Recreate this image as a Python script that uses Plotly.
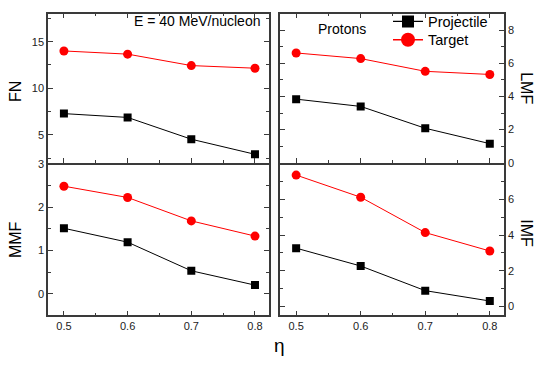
import plotly.graph_objects as go

eta = [0.5, 0.6, 0.7, 0.8]

fn_projectile = [7.27, 6.86, 4.52, 2.9]
fn_target = [14.0, 13.66, 12.43, 12.15]

lmf_projectile = [3.84, 3.40, 2.08, 1.15]
lmf_target = [6.63, 6.29, 5.52, 5.33]

mmf_projectile = [1.51, 1.19, 0.53, 0.20]
mmf_target = [2.48, 2.22, 1.68, 1.33]

imf_projectile = [3.27, 2.27, 0.89, 0.31]
imf_target = [7.36, 6.12, 4.14, 3.11]

series_names = ["Projectile", "Target"]

W, H = 537, 365
FONT = "Liberation Sans, Arial, sans-serif"
AX = "#3a3a3a"

def px_x(p):
    return p / W

def px_y(p):
    return 1 - p / H

fig = go.Figure()

panels = [
    ("x", "y", fn_projectile, fn_target),
    ("x2", "y2", lmf_projectile, lmf_target),
    ("x3", "y3", mmf_projectile, mmf_target),
    ("x4", "y4", imf_projectile, imf_target),
]

for xa, ya, proj, targ in panels:
    fig.add_trace(go.Scatter(
        x=eta, y=proj, xaxis=xa, yaxis=ya, name=series_names[0],
        mode="lines+markers", showlegend=False,
        line=dict(color="black", width=1),
        marker=dict(symbol="square", size=8, color="black"),
    ))
    fig.add_trace(go.Scatter(
        x=eta, y=targ, xaxis=xa, yaxis=ya, name=series_names[1],
        mode="lines+markers", showlegend=False,
        line=dict(color="red", width=1),
        marker=dict(symbol="circle", size=9, color="red"),
    ))

# legend entries (larger symbols, as in the reference legend)
fig.add_trace(go.Scatter(
    x=[None], y=[None], name=series_names[0], mode="lines+markers",
    line=dict(color="black", width=1.3), legend="legend",
    marker=dict(symbol="square", size=12, color="black"),
))
fig.add_trace(go.Scatter(
    x=[None], y=[None], name=series_names[1], mode="lines+markers",
    line=dict(color="red", width=1.3), legend="legend2",
    marker=dict(symbol="circle", size=14, color="red"),
))

LW = 1.5
xleft = [px_x(48), px_x(269)]
xright = [px_x(280), px_x(504)]
ytop = [px_y(162), px_y(8)]
ybot = [px_y(320), px_y(163)]

xminor = dict(ticks="inside", ticklen=3, dtick=0.05, tick0=0.45, tickcolor=AX)
common_x = dict(
    range=[0.475, 0.822], tickvals=[0.5, 0.6, 0.7, 0.8],
    ticks="inside", ticklen=5, tickcolor=AX, tickwidth=1,
    minor=xminor,
    showline=True, linecolor=AX, linewidth=LW,
    showgrid=False, zeroline=False,
    tickfont=dict(family=FONT, size=11, color="#222"),
)
# tick-only axes on the top edge of the lower panels (the shared border line
# is drawn once, by the upper panels' bottom axes)
top_ticks = dict(
    range=[0.475, 0.822], tickvals=[0.5, 0.6, 0.7, 0.8],
    ticks="inside", ticklen=5, tickcolor=AX, tickwidth=1, minor=xminor,
    showline=False, showgrid=False, zeroline=False, showticklabels=False,
    side="top",
)
common_y = dict(
    ticks="inside", ticklen=5, tickcolor=AX, tickwidth=1,
    showline=True, linecolor=AX, linewidth=LW, mirror="ticks",
    showgrid=False, zeroline=False,
    tickfont=dict(family=FONT, size=11, color="#222"),
)

legend_common = dict(
    xanchor="left", yanchor="middle",
    bgcolor="rgba(0,0,0,0)", borderwidth=0,
    font=dict(family=FONT, size=14.5, color="black"),
    itemsizing="trace", itemwidth=30,
)

fig.update_layout(
    width=W, height=H,
    margin=dict(l=0, r=0, t=0, b=0),
    paper_bgcolor="white", plot_bgcolor="white",
    font=dict(family=FONT, color="black"),
    xaxis=dict(common_x, domain=xleft, anchor="y", mirror="ticks", showticklabels=False),
    yaxis=dict(common_y, domain=ytop, anchor="x", range=[2, 18],
               tickvals=[5, 10, 15],
               minor=dict(ticks="inside", ticklen=3, dtick=2.5, tick0=0, tickcolor=AX)),
    xaxis2=dict(common_x, domain=xright, anchor="y2", mirror="ticks", showticklabels=False),
    yaxis2=dict(common_y, domain=ytop, anchor="x2", side="right", range=[0, 9],
                tickvals=[0, 2, 4, 6, 8],
                minor=dict(ticks="inside", ticklen=3, dtick=1, tick0=0, tickcolor=AX)),
    xaxis3=dict(common_x, domain=xleft, anchor="y3", mirror=False),
    yaxis3=dict(common_y, domain=ybot, anchor="x3", range=[-0.5, 3],
                tickvals=[0, 1, 2, 3],
                minor=dict(ticks="inside", ticklen=3, dtick=0.5, tick0=0, tickcolor=AX)),
    xaxis4=dict(common_x, domain=xright, anchor="y4", mirror=False),
    yaxis4=dict(common_y, domain=ybot, anchor="x4", side="right", range=[-0.5, 8],
                tickvals=[0, 2, 4, 6],
                minor=dict(ticks="inside", ticklen=3, dtick=1, tick0=0, tickcolor=AX)),
    xaxis5=dict(top_ticks, domain=xleft, anchor="y3", overlaying="x3"),
    xaxis6=dict(top_ticks, domain=xright, anchor="y4", overlaying="x4"),
    legend=dict(legend_common, x=px_x(388), y=px_y(16)),
    legend2=dict(legend_common, x=px_x(388), y=px_y(35)),
)

annots = [
    dict(text="E = 40 MeV/nucleon", x=px_x(197), y=px_y(15), size=14, angle=0),
    dict(text="Protons", x=px_x(342), y=px_y(24), size=14, angle=0),
    dict(text="FN", x=px_x(15), y=px_y(88), size=16, angle=-90),
    dict(text="MMF", x=px_x(15), y=px_y(241), size=16, angle=-90),
    dict(text="LMF", x=px_x(527), y=px_y(85), size=16, angle=90),
    dict(text="IMF", x=px_x(527), y=px_y(235), size=16, angle=90),
    dict(text="η", x=px_x(279), y=px_y(351), size=19, angle=0),
]
for a in annots:
    fig.add_annotation(
        text=a["text"], x=a["x"], y=a["y"], xref="paper", yref="paper",
        xanchor="center", yanchor="middle", showarrow=False,
        textangle=a["angle"], font=dict(family=FONT, size=a["size"], color="black"),
    )

fig.write_html(
    "out.html",
    config={"displayModeBar": False},
    post_script="document.body.style.margin='0';document.body.style.overflow='hidden';",
)
